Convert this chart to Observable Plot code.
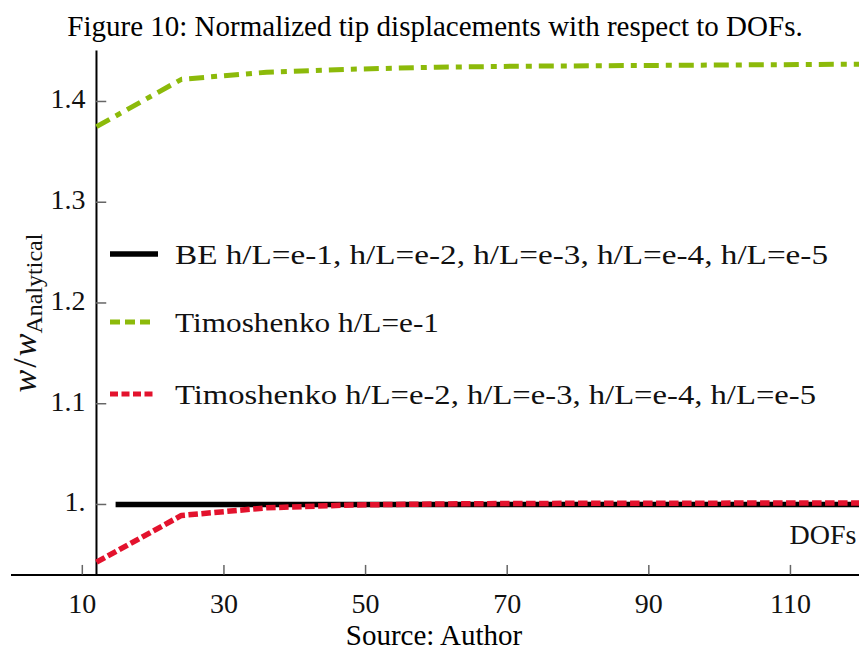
<!DOCTYPE html>
<html>
<head>
<meta charset="utf-8">
<script src="https://cdn.jsdelivr.net/npm/d3@7"></script>
<script src="https://cdn.jsdelivr.net/npm/@observablehq/plot@0.6"></script>
<style>
  html, body { margin: 0; padding: 0; background: #fff; }
  body { width: 859px; height: 650px; overflow: hidden; font-family: "Liberation Serif", "Times New Roman", serif; color: #000; }
  #title { box-sizing: border-box; height: 46px; padding-top: 12px; padding-left: 11px; text-align: center; font-size: 29px; line-height: 29px; white-space: nowrap; }
  #chart { height: 570px; }
  #caption { margin-top: 5px; padding-left: 9px; text-align: center; font-size: 29px; line-height: 29px; white-space: nowrap; }
</style>
</head>
<body>
<div id="title">Figure 10: Normalized tip displacements with respect to DOFs.</div>
<div id="chart"></div>
<div id="caption">Source: Author</div>
<script>
// ---- data ----
const timoDofs = [12, 24, 36, 48, 60, 72, 84, 96, 108, 120];
const timoE1 = [1.375, 1.422, 1.429, 1.432, 1.434, 1.435, 1.4355, 1.436, 1.4365, 1.437];
const timoE2toE5 = [0.9427, 0.9891, 0.9967, 0.9995, 1.0005, 1.001, 1.0012, 1.0013, 1.0014, 1.0015];
const beDofs = [14.7, 30, 45, 60, 75, 90, 105, 120];
const beValues = [1, 1, 1, 1, 1, 1, 1, 1];
const xTicks = [10, 30, 50, 70, 90, 110];
const yTicks = [1.0, 1.1, 1.2, 1.3, 1.4];
const legendLabels = [
  "BE h/L=e-1, h/L=e-2, h/L=e-3, h/L=e-4, h/L=e-5",
  "Timoshenko h/L=e-1",
  "Timoshenko h/L=e-2, h/L=e-3, h/L=e-4, h/L=e-5"
];
const xAxisLabel = "DOFs";

// ---- tables ----
const beData = beDofs.map((d, i) => ({dof: d, v: beValues[i]}));
const e1Data = timoDofs.map((d, i) => ({dof: d, v: timoE1[i]}));
const e2Data = timoDofs.map((d, i) => ({dof: d, v: timoE2toE5[i]}));

const GREEN = "#8cba0a";
const RED = "#e3122d";
const SERIF = '"Liberation Serif", "Times New Roman", serif';
const Y0 = 0.93;   // where the x axis crosses
const X0 = 12;     // where the y axis crosses
const fmtY = d => (d === 1 ? "1." : d.toFixed(1));

const W = 859, H = 570;
const plot = Plot.plot({
  width: W, height: H,
  marginLeft: 11, marginRight: 0, marginTop: 4.6, marginBottom: 41.5,
  x: {domain: [0, 119.75], axis: null},
  y: {domain: [Y0, 1.45], axis: null},
  style: {fontFamily: SERIF, fontSize: "28px", color: "#000", background: "#fff", overflow: "visible"},
  marks: [
    Plot.ruleY([Y0], {stroke: "#000", strokeWidth: 2}),
    Plot.ruleX([X0], {stroke: "#000", strokeWidth: 2}),
    Plot.ruleX(xTicks, {x: d => d, y1: () => Y0, y2: () => Y0 + 0.0095, stroke: "#666", strokeWidth: 1.5}),
    Plot.ruleY(yTicks, {y: d => d, x1: () => X0, x2: () => X0 + 1.45, stroke: "#666", strokeWidth: 1.5}),
    Plot.text(xTicks, {x: d => d, y: () => Y0, text: d => String(d), dy: 29, fill: "#111"}),
    Plot.text(yTicks, {x: () => X0, y: d => d, text: fmtY, textAnchor: "end", dx: -11, dy: -2, fill: "#111"}),
    Plot.text([xAxisLabel], {frameAnchor: "bottom-right", text: d => d, textAnchor: "end", dx: -3, dy: -31, fill: "#111"}),
    Plot.line(beData, {x: "dof", y: "v", stroke: "#000", strokeWidth: 5.5, strokeLinecap: "butt"}),
    Plot.line(e1Data, {x: "dof", y: "v", stroke: GREEN, strokeWidth: 5, strokeLinecap: "butt", strokeLinejoin: "miter", strokeDasharray: "15,7,6,7"}),
    Plot.line(e2Data, {x: "dof", y: "v", stroke: RED, strokeWidth: 5.5, strokeLinecap: "butt", strokeLinejoin: "miter", strokeDasharray: "9.5,3.5"})
  ]
});
document.getElementById("chart").appendChild(plot);

const svg = d3.select(plot);

// y-axis label  w / w_Analytical
const yl = svg.append("text")
  .attr("transform", "translate(36,267) rotate(-90)")
  .attr("text-anchor", "middle")
  .style("font-family", SERIF)
  .attr("fill", "#111");
yl.append("tspan").attr("font-size", 34).style("font-style", "italic").text("w");
yl.append("tspan").attr("font-size", 34).attr("dx", 2).text("/");
yl.append("tspan").attr("font-size", 34).attr("dx", 2).style("font-style", "italic").text("w");
yl.append("tspan").attr("font-size", 24).attr("dy", 6).text("Analytical");

// legend (inside the plot area)
const legendRows = [
  {y: 208, stroke: "#000", width: 5.5, dash: null, x1: 110, x2: 158, len: 653},
  {y: 276, stroke: GREEN, width: 5, dash: "10,5", x1: 110, x2: 150, len: 264},
  {y: 348, stroke: RED, width: 5, dash: "8,3.5", x1: 110, x2: 154, len: 641}
];
const lg = svg.append("g");
legendRows.forEach((r, i) => {
  const line = lg.append("line")
    .attr("x1", r.x1).attr("x2", r.x2).attr("y1", r.y).attr("y2", r.y)
    .attr("stroke", r.stroke).attr("stroke-width", r.width);
  if (r.dash) line.attr("stroke-dasharray", r.dash);
  lg.append("text")
    .attr("x", 175).attr("y", r.y + 10)
    .attr("text-anchor", "start")
    .style("font-family", SERIF)
    .attr("font-size", 28)
    .attr("fill", "#111")
    .attr("textLength", r.len)
    .attr("lengthAdjust", "spacingAndGlyphs")
    .text(legendLabels[i]);
});
</script>
</body>
</html>
